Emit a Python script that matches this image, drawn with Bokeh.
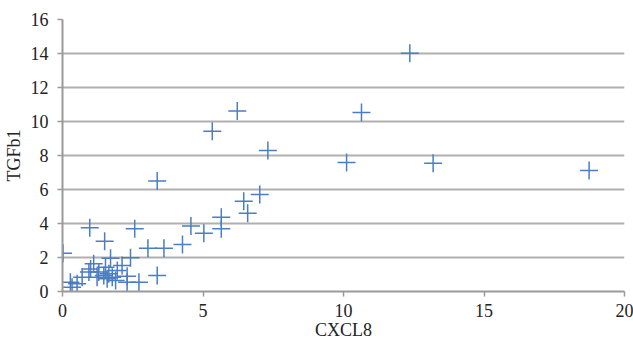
from bokeh.plotting import figure
from bokeh.models import ColumnDataSource, Range1d, FixedTicker
from bokeh.embed import file_html
from bokeh.resources import INLINE

cxcl8 = [12.36, 6.22, 5.33, 7.31, 10.64, 10.11, 13.19, 18.74, 3.37, 7.02,
         6.45, 6.59, 5.65, 5.65, 5.03, 4.57, 4.27, 3.61, 3.04, 3.37,
         0.97, 2.57, 1.50, 0.02, 2.42, 1.71, 2.72, 2.30,
         0.28, 0.52, 0.34, 0.70, 1.00, 1.11, 0.94, 1.29, 1.53, 1.47,
         1.65, 1.77, 1.59, 1.95, 2.12, 1.89, 2.30, 1.23]
tgfb1 = [14.02, 10.62, 9.43, 8.29, 10.53, 7.59, 7.55, 7.12, 6.50, 5.71,
         5.31, 4.61, 4.37, 3.69, 3.43, 3.85, 2.76, 2.55, 2.55, 0.94,
         3.75, 3.69, 2.96, 2.25, 1.98, 1.95, 0.55, 0.90,
         0.55, 0.45, 0.25, 0.84, 1.33, 1.63, 1.14, 1.14, 1.43, 0.94,
         1.04, 0.84, 0.75, 1.24, 1.53, 0.65, 0.55, 0.84]

x_ticks = [0, 5, 10, 15, 20]
y_ticks = [0, 2, 4, 6, 8, 10, 12, 14, 16]

src = ColumnDataSource(dict(x=cxcl8, y=tgfb1))

p = figure(output_backend="svg", toolbar_location=None,
           width=633, height=342,
           min_border_left=62, min_border_top=19, min_border_right=9, min_border_bottom=51,
           x_range=Range1d(0, 20), y_range=Range1d(0, 16))
p.outline_line_color = None
p.background_fill_color = "white"
p.border_fill_color = "white"

p.scatter("x", "y", source=src, marker="cross", size=18, line_width=1.5,
          line_color="#4a7dc4")

font = "Liberation Serif"
for ax in (p.xaxis[0], p.yaxis[0]):
    ax.major_label_text_font = font
    ax.major_label_text_font_size = "18px"
    ax.major_label_text_color = "#222222"
    ax.axis_label_text_font = font
    ax.axis_label_text_font_size = "18px"
    ax.axis_label_text_font_style = "normal"
    ax.axis_label_text_color = "#222222"
    ax.axis_line_color = "#9a9a9a"
    ax.axis_line_width = 2
    ax.major_tick_line_color = "#9a9a9a"
    ax.major_tick_line_width = 1.5
    ax.major_tick_in = 0
    ax.major_tick_out = 5
    ax.minor_tick_line_color = None

p.xaxis.ticker = FixedTicker(ticks=x_ticks)
p.yaxis.ticker = FixedTicker(ticks=y_ticks)
p.xaxis.axis_label = "CXCL8"
p.yaxis.axis_label = "TGFb1"
p.xaxis.major_label_standoff = 7
p.xaxis.axis_label_standoff = 0
p.yaxis.major_label_standoff = 9
p.yaxis.axis_label_standoff = 4

p.xgrid.grid_line_color = None
p.ygrid.grid_line_color = "#b0b0b0"
p.ygrid.grid_line_width = 2

open("out.html", "w").write(file_html(p, INLINE))
